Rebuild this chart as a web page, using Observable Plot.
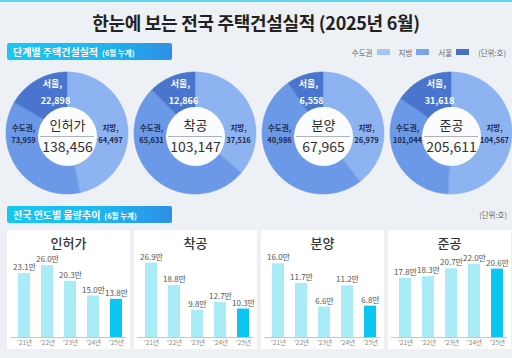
<!DOCTYPE html>
<html><head><meta charset="utf-8">
<script src="https://cdn.jsdelivr.net/npm/d3@7"></script>
<script src="https://cdn.jsdelivr.net/npm/@observablehq/plot@0.6"></script>
<style>
body{margin:0;background:#edf1f5;font-family:"Noto Sans CJK KR","Noto Sans",sans-serif;}
#root{position:relative;width:512px;height:358px;overflow:hidden;background:#edf1f5;}
.abs{position:absolute;}
.topline{left:0;top:0;width:512px;height:2px;background:#5fd5ee;}
.title{left:0;top:10px;width:512px;height:24px;line-height:24px;text-align:center;font-size:18px;font-weight:700;color:#222;letter-spacing:-0.3px;}
.sec{left:7px;width:165px;height:17px;line-height:17px;border-radius:2px;background:linear-gradient(90deg,#18c7f3 0%,#1db8f0 55%,#2e8fe6 100%);color:#fff;font-weight:700;font-size:10px;padding-left:6px;box-sizing:border-box;white-space:nowrap;}
.sec small{font-size:7.5px;font-weight:700;margin-left:4px;}
.legend{top:46px;right:6px;height:12px;font-size:7.5px;color:#666;display:flex;align-items:center;white-space:nowrap;}
.legend .sw{display:inline-block;width:13px;height:6px;margin:0 9px 0 4px;}
.unit{font-size:7.5px;color:#666;white-space:nowrap;}
.card{background:#fff;width:123px;height:119px;top:230px;}
.card .ct{position:absolute;left:0;top:0;width:123px;height:25px;line-height:25px;text-align:center;font-size:13px;font-weight:500;color:#333;}
</style></head><body><div id="root"></div>
<script>
// ---- data ----
const stages = ["인허가", "착공", "분양", "준공"];
const totals = [138456, 103147, 67965, 205611];
const capital = [73959, 65631, 40986, 101044];   // 수도권
const provinces = [64497, 37516, 26979, 104567]; // 지방
const seoul = [22898, 12866, 6558, 31618];       // 서울 (수도권 내)
const years = ["'21년", "'22년", "'23년", "'24년", "'25년"];
const permits = [23.1, 26.0, 20.3, 15.0, 13.8];
const starts = [26.9, 18.8, 9.8, 12.7, 10.3];
const sales = [16.0, 11.7, 6.6, 11.2, 6.8];
const completions = [17.8, 18.3, 20.7, 22.0, 20.6];
const yearSeries = [permits, starts, sales, completions];
const yMax = [30, 30, 18, 25];
const legendKeys = ["수도권", "지방", "서울"];

const FONT = '"Noto Sans CJK KR","Noto Sans",sans-serif';
const fmt = d3.format(",");
const root = document.getElementById("root");
function add(cls, html, style) {
  const d = document.createElement("div");
  d.className = "abs " + cls;
  if (html != null) d.innerHTML = html;
  if (style) Object.assign(d.style, style);
  root.appendChild(d);
  return d;
}
add("topline");
add("title", "한눈에 보는 전국 주택건설실적 (2025년 6월)");
add("sec", "단계별 주택건설실적<small>(6월 누계)</small>", {top: "43px"});
add("sec", "전국 연도별 물량추이<small>(6월 누계)</small>", {top: "206px"});

// legend
const legendColors = {"수도권": "#a6c6f5", "지방": "#7aa3ea", "서울": "#4870cb"};
const lg = add("legend");
lg.innerHTML = legendKeys.map(k => `<span>${k}</span><span class="sw" style="background:${legendColors[k]}"></span>`).join("") + `<span>(단위:호)</span>`;
add("unit", "(단위:호)", {top: "209px", right: "5px"});

// ---- donuts ----
const R_OUT = 61, R_IN = 26;
const sliceColor = {domain: ["지방", "수도권", "서울"], range: ["#8db4f0", "#6b98e7", "#4a75cf"]};
stages.forEach((stage, i) => {
  const slices = [
    {key: "지방", value: provinces[i]},
    {key: "수도권", value: capital[i] - seoul[i]},
    {key: "서울", value: seoul[i]}
  ];
  const arcs = d3.pie().sort(null).value(d => d.value)(slices);
  const rows = [];
  for (const a of arcs) {
    const n = Math.max(2, Math.ceil((a.endAngle - a.startAngle) / (Math.PI / 180)));
    for (let j = 0; j <= n; j++) {
      const t = a.startAngle + (a.endAngle - a.startAngle) * j / n;
      rows.push({key: a.data.key,
        x1: R_IN * Math.sin(t), y1: R_IN * Math.cos(t),
        x2: R_OUT * Math.sin(t), y2: R_OUT * Math.cos(t)});
    }
  }
  const center = [{x: 0, y: 0, stage, total: totals[i], cap: capital[i], prov: provinces[i], seoul: seoul[i]}];
  const chart = Plot.plot({
    width: 128, height: 128, margin: 0,
    x: {domain: [-64, 64], axis: null},
    y: {domain: [-64, 64], axis: null},
    color: sliceColor,
    style: {background: "transparent", fontFamily: FONT, overflow: "visible"},
    marks: [
      Plot.area(rows, {x1: "x1", y1: "y1", x2: "x2", y2: "y2", z: "key", fill: "key", stroke: "key", strokeWidth: 0.6}),
      Plot.dot(center, {x: "x", y: "y", r: 29.5, dy: 3, fill: "#fbfcfe", stroke: "none"}),
      Plot.text(center, {x: "x", y: "y", text: "stage", dy: -8, fontSize: 13, fill: "#2b2b2b"}),
      Plot.ruleY([0], {stroke: "#b0b4ba", strokeWidth: 1, insetLeft: 37, insetRight: 37, dy: 3}),
      Plot.text(center, {x: "x", y: "y", text: d => fmt(d.total), dy: 14, fontSize: 14, fill: "#333", letterSpacing: -0.4}),
      Plot.text(center, {x: "x", y: "y", text: () => "수도권,", dx: -44, dy: -5, fontSize: 7.5, fontWeight: 700, fill: "#1c2c4c"}),
      Plot.text(center, {x: "x", y: "y", text: d => fmt(d.cap), dx: -44, dy: 7, fontSize: 7.5, fontWeight: 700, fill: "#1c2c4c"}),
      Plot.text(center, {x: "x", y: "y", text: () => "지방,", dx: 43, dy: -5, fontSize: 7.5, fontWeight: 700, fill: "#1c2c4c"}),
      Plot.text(center, {x: "x", y: "y", text: d => fmt(d.prov), dx: 43, dy: 7, fontSize: 7.5, fontWeight: 700, fill: "#1c2c4c"}),
      Plot.text(center, {x: "x", y: "y", text: () => "서울,", dx: -15, dy: -49, fontSize: 9, fontWeight: 700, fill: "#ffffff"}),
      Plot.text(center, {x: "x", y: "y", text: d => fmt(d.seoul), dx: -12, dy: -32, fontSize: 9, fontWeight: 700, fill: "#ffffff"})
    ]
  });
  chart.style.position = "absolute";
  chart.style.left = (3 + 128 * i) + "px";
  chart.style.top = "69px";
  root.appendChild(chart);
});

// ---- yearly bar cards ----
const cardLeft = [7, 134, 261, 388];
stages.forEach((stage, i) => {
  const card = add("card", null, {left: cardLeft[i] + "px"});
  const rows = years.map((y, j) => ({year: y, value: yearSeries[i][j], kind: j === years.length - 1 ? "올해" : "과거"}));
  const chart = Plot.plot({
    width: 123, height: 119,
    marginTop: 24, marginBottom: 12, marginLeft: 10, marginRight: 8,
    x: {domain: years, paddingInner: 0.48, paddingOuter: 0, label: null, tickSize: 0, tickPadding: 3},
    y: {domain: [0, yMax[i]], axis: null},
    color: {domain: ["과거", "올해"], range: ["#a9ebf6", "#0cc6f2"]},
    style: {background: "white", fontFamily: FONT, fontSize: "6.5px", color: "#8a8a8a", overflow: "visible"},
    marks: [
      Plot.barY(rows, {x: "year", y: "value", fill: "kind"}),
      Plot.ruleY([0], {stroke: "#c3c7cc", strokeWidth: 1, insetLeft: -7, insetRight: -4}),
      Plot.text(rows, {x: "year", y: "value", text: d => d.value.toFixed(1) + "만", dy: -6, fontSize: 8, fill: "#555"})
    ]
  });
  chart.style.position = "absolute";
  chart.style.left = "0px";
  chart.style.top = "0px";
  card.appendChild(chart);
  const t = document.createElement("div");
  t.className = "ct";
  t.textContent = stage;
  card.appendChild(t);
});
</script>
</body></html>
